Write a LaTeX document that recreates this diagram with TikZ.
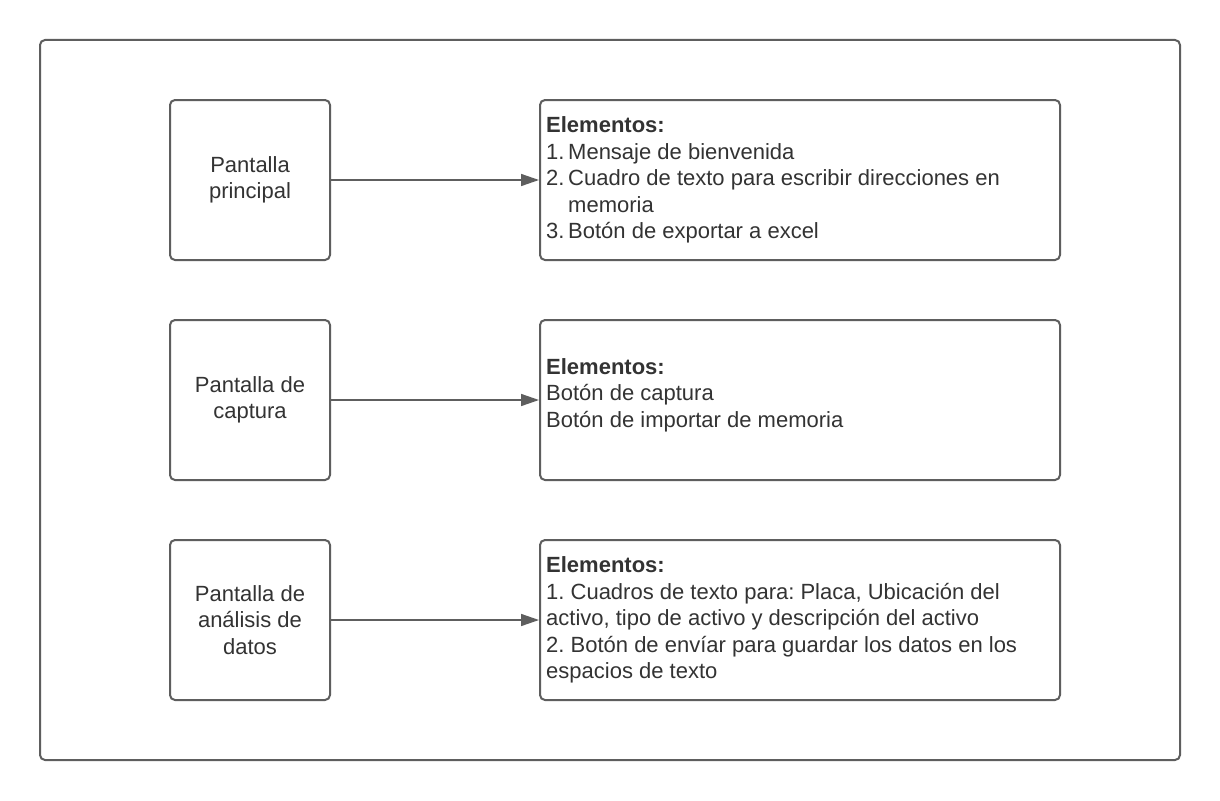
\documentclass[tikz,border=0pt]{standalone}
\usepackage{fontspec}
\setmainfont{Liberation Sans}
\usetikzlibrary{arrows.meta}
\definecolor{strokegray}{HTML}{5E5E5E}
\definecolor{textgray}{HTML}{333333}
\newcommand{\numlabel}[1]{\makebox[22pt][l]{#1}}
\frenchspacing
\begin{document}
\begin{tikzpicture}[x=1pt,y=-1pt,
  panel/.style={draw=strokegray, line width=2pt, rounded corners=5pt, fill=white, inner sep=0pt},
  screenbox/.style={panel, minimum width=160pt, minimum height=160pt, align=center, text=textgray, font=\fontsize{22}{26.4}\selectfont},
  elembox/.style={panel, minimum width=520pt, minimum height=160pt},
  elemtext/.style={anchor=west, inner sep=0pt, align=left, text=textgray, font=\fontsize{22}{26.4}\selectfont},
  link/.style={draw=strokegray, line width=1.5pt, -{Triangle[length=18pt,width=12pt]}}]
\useasboundingbox (0,0) rectangle (1220,800);
\node[panel, minimum width=1140pt, minimum height=720pt] (frame) at (610,400) {};

\node[screenbox] (s1) at (250,180) {Pantalla\\principal};
\node[elembox] (e1) at (800,180) {};
\node[elemtext] (t1) at (546,180) {\textbf{Elementos:}\\
\numlabel{1.}Mensaje de bienvenida\\
\numlabel{2.}Cuadro de texto para escribir direcciones en\\
\hspace*{22pt}memoria\\
\numlabel{3.}Botón de exportar a excel};
\draw[link] (s1.east) -- (e1.west);

\node[screenbox] (s2) at (250,400) {Pantalla de\\captura};
\node[elembox] (e2) at (800,400) {};
\node[elemtext] (t2) at (546,395) {\textbf{Elementos:}\\
Botón de captura\\
Botón de importar de memoria};
\draw[link] (s2.east) -- (e2.west);

\node[screenbox] (s3) at (250,620) {Pantalla de\\análisis de\\datos};
\node[elembox] (e3) at (800,620) {};
\node[elemtext] (t3) at (546,620) {\textbf{Elementos:}\\
1. Cuadros de texto para: Placa, Ubicación del\\
activo, tipo de activo y descripción del activo\\
2. Botón de envíar para guardar los datos en los\\
espacios de texto};
\draw[link] (s3.east) -- (e3.west);
\end{tikzpicture}
\end{document}
